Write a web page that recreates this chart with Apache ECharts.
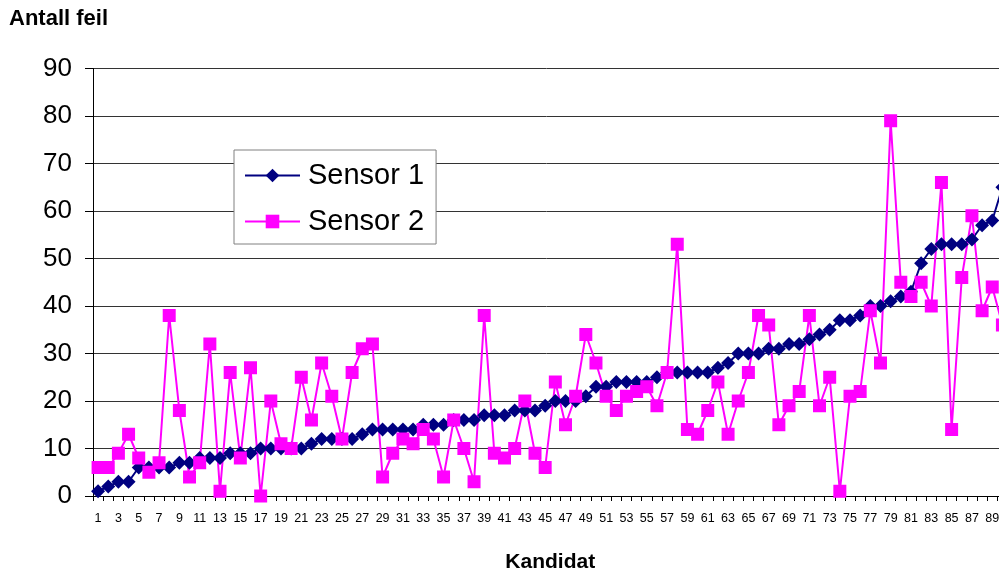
<!DOCTYPE html>
<html>
<head>
<meta charset="utf-8">
<script src="https://cdn.jsdelivr.net/npm/echarts@6/dist/echarts.min.js"></script>
<style>
  html, body { margin: 0; padding: 0; background: #ffffff; overflow: hidden; }
  #chart { width: 999px; height: 572px; }
</style>
</head>
<body>
<div id="chart"></div>
<script>
// Kandidatnummer (x-akse)
const kandidater = [
  '1','2','3','4','5','6','7','8','9','10','11','12','13','14','15','16','17','18','19','20',
  '21','22','23','24','25','26','27','28','29','30','31','32','33','34','35','36','37','38','39','40',
  '41','42','43','44','45','46','47','48','49','50','51','52','53','54','55','56','57','58','59','60',
  '61','62','63','64','65','66','67','68','69','70','71','72','73','74','75','76','77','78','79','80',
  '81','82','83','84','85','86','87','88','89','90'
];

// Antall feil per kandidat, sensor 1 (sortert stigende)
const sensor1 = [
  1, 2, 3, 3, 6, 6, 6, 6, 7, 7, 8, 8, 8, 9, 9, 9, 10, 10, 10, 10,
  10, 11, 12, 12, 12, 12, 13, 14, 14, 14, 14, 14, 15, 15, 15, 16, 16, 16, 17, 17,
  17, 18, 18, 18, 19, 20, 20, 20, 21, 23, 23, 24, 24, 24, 24, 25, 26, 26, 26, 26,
  26, 27, 28, 30, 30, 30, 31, 31, 32, 32, 33, 34, 35, 37, 37, 38, 40, 40, 41, 42,
  43, 49, 52, 53, 53, 53, 54, 57, 58, 65
];

// Antall feil per kandidat, sensor 2
const sensor2 = [
  6, 6, 9, 13, 8, 5, 7, 38, 18, 4, 7, 32, 1, 26, 8, 27, 0, 20, 11, 10,
  25, 16, 28, 21, 12, 26, 31, 32, 4, 9, 12, 11, 14, 12, 4, 16, 10, 3, 38, 9,
  8, 10, 20, 9, 6, 24, 15, 21, 34, 28, 21, 18, 21, 22, 23, 19, 26, 53, 14, 13,
  18, 24, 13, 20, 26, 38, 36, 15, 19, 22, 38, 19, 25, 1, 21, 22, 39, 28, 79, 45,
  42, 45, 40, 66, 14, 46, 59, 39, 44, 36
];

const FONT = "'Liberation Sans', Arial, Helvetica, sans-serif";

const chart = echarts.init(document.getElementById('chart'), null, { renderer: 'canvas' });

chart.setOption({
  animation: false,
  backgroundColor: '#ffffff',
  textStyle: { fontFamily: FONT },
  title: {
    text: 'Antall feil',
    left: 9,
    top: 8,
    padding: 0,
    textStyle: { fontFamily: FONT, fontSize: 22, fontWeight: 'bold', color: '#000000' }
  },
  legend: {
    orient: 'vertical',
    left: 234,
    top: 150,
    backgroundColor: '#ffffff',
    borderColor: '#808080',
    borderWidth: 1,
    padding: [11, 12, 8, 10],
    itemWidth: 55,
    itemHeight: 17,
    itemGap: 17,
    textStyle: { fontFamily: FONT, fontSize: 29, color: '#000000', padding: [0, 0, 0, 3] },
    data: ['Sensor 1', 'Sensor 2']
  },
  // the plot area runs a little past the right edge of the page
  grid: { left: 93, top: 68.5, width: 914.5, bottom: 76, outerBoundsMode: 'none', containLabel: false },
  xAxis: {
    type: 'category',
    data: kandidater,
    boundaryGap: true,
    name: 'Kandidat',
    nameLocation: 'middle',
    nameGap: 56,
    nameTextStyle: { fontFamily: FONT, fontSize: 21, fontWeight: 'bold', color: '#000000' },
    axisLine: { show: true, lineStyle: { color: '#000000', width: 1 } },
    axisTick: { show: true, interval: 0, length: 5, lineStyle: { color: '#000000' } },
    axisLabel: { interval: 1, fontFamily: FONT, fontSize: 12.5, color: '#000000', margin: 16 },
    splitLine: { show: false }
  },
  yAxis: {
    type: 'value',
    min: 0,
    max: 90,
    interval: 10,
    axisLine: { show: true, lineStyle: { color: '#000000', width: 1 } },
    axisTick: { show: true, length: 8, lineStyle: { color: '#000000' } },
    axisLabel: { fontFamily: FONT, fontSize: 26, color: '#000000', margin: 21 },
    splitLine: { show: true, lineStyle: { color: '#333333', width: 1 } }
  },
  series: [
    {
      name: 'Sensor 1',
      type: 'line',
      data: sensor1,
      symbol: 'diamond',
      symbolSize: 14,
      showAllSymbol: true,
      lineStyle: { color: '#000080', width: 2 },
      itemStyle: { color: '#000080' }
    },
    {
      name: 'Sensor 2',
      type: 'line',
      data: sensor2,
      symbol: 'rect',
      symbolSize: 13,
      showAllSymbol: true,
      lineStyle: { color: '#ff00ff', width: 2 },
      itemStyle: { color: '#ff00ff' }
    }
  ]
});
</script>
</body>
</html>
